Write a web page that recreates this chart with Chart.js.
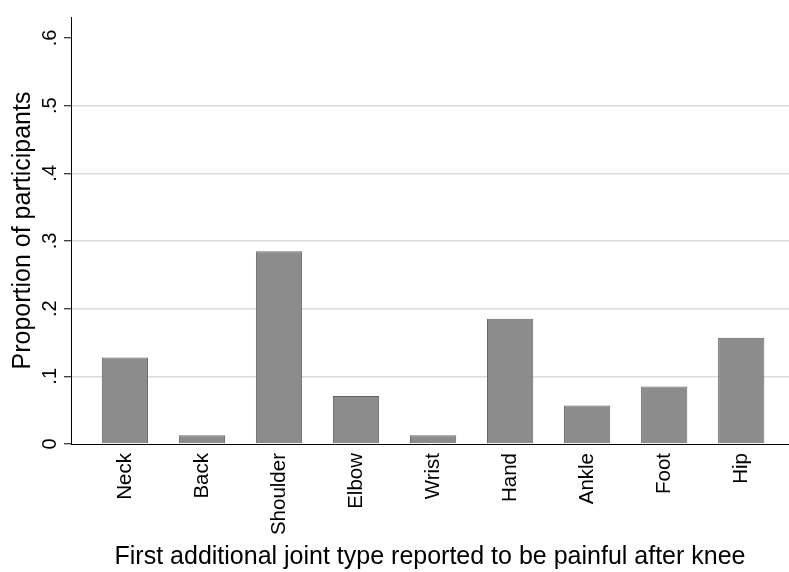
<!DOCTYPE html>
<html>
<head>
<meta charset="utf-8">
<script src="https://cdn.jsdelivr.net/npm/chart.js@4"></script>
<style>
  html, body { margin: 0; padding: 0; background: #fff; }
  canvas { display: block; }
</style>
</head>
<body>
<canvas id="jointChart" width="789" height="572"></canvas>
<script>
const categories = ["Neck", "Back", "Shoulder", "Elbow", "Wrist", "Hand", "Ankle", "Foot", "Hip"];
const proportions = [0.128, 0.013, 0.285, 0.071, 0.013, 0.185, 0.057, 0.085, 0.157];
const yTicks = [0, 0.1, 0.2, 0.3, 0.4, 0.5, 0.6];
const yTickLabels = ["0", ".1", ".2", ".3", ".4", ".5", ".6"];

const FONT = "'Liberation Sans', Arial, sans-serif";

const ctx = document.getElementById("jointChart").getContext("2d");
new Chart(ctx, {
  type: "bar",
  data: {
    datasets: [
      {
        data: proportions.map((v, i) => ({ x: i, y: v })),
        backgroundColor: "#8c8c8c",
        borderColor: "#666666",
        borderWidth: 1,
        barPercentage: 0.6,
        categoryPercentage: 1,
      },
    ],
  },
  options: {
    responsive: false,
    animation: false,
    devicePixelRatio: 1,
    layout: { padding: { top: 8, right: 0, left: 0, bottom: 0 } },
    plugins: {
      legend: { display: false },
      tooltip: { enabled: false },
    },
    scales: {
      x: {
        type: "linear",
        offset: false,
        min: -0.7,
        max: 8.62,
        afterBuildTicks: (scale) => {
          scale.ticks = categories.map((c, i) => ({ value: i }));
        },
        afterFit: (scale) => {
          scale.height = 128;
        },
        grid: { display: false, drawTicks: false },
        border: { color: "#000", width: 1 },
        ticks: {
          minRotation: 90,
          maxRotation: 90,
          padding: 9,
          color: "#000",
          font: { family: FONT, size: 20.5 },
          callback: (value) => categories[value],
        },
        title: {
          display: true,
          text: "First additional joint type reported to be painful after knee",
          color: "#000",
          font: { family: FONT, size: 25 },
          padding: { top: 0, bottom: 0 },
        },
      },
      y: {
        min: 0,
        max: 0.631,
        afterBuildTicks: (scale) => {
          scale.ticks = yTicks.map((v) => ({ value: v }));
        },
        afterFit: (scale) => {
          scale.width = 71;
        },
        grid: {
          color: (c) => (c.tick && c.tick.value > 0 && c.tick.value < 0.55 ? "#dcdcdc" : "rgba(0,0,0,0)"),
          lineWidth: 1.5,
          tickColor: "#000",
          tickLength: 7,
          tickWidth: 1,
        },
        border: { color: "#000", width: 1 },
        ticks: {
          minRotation: 90,
          maxRotation: 90,
          crossAlign: "center",
          padding: 5,
          color: "#000",
          font: { family: FONT, size: 20 },
          callback: (value, index) => yTickLabels[index],
        },
        title: {
          display: true,
          text: "Proportion of participants",
          color: "#000",
          font: { family: FONT, size: 25 },
          padding: { top: 8, bottom: 0 },
        },
      },
    },
  },
});
</script>
</body>
</html>
